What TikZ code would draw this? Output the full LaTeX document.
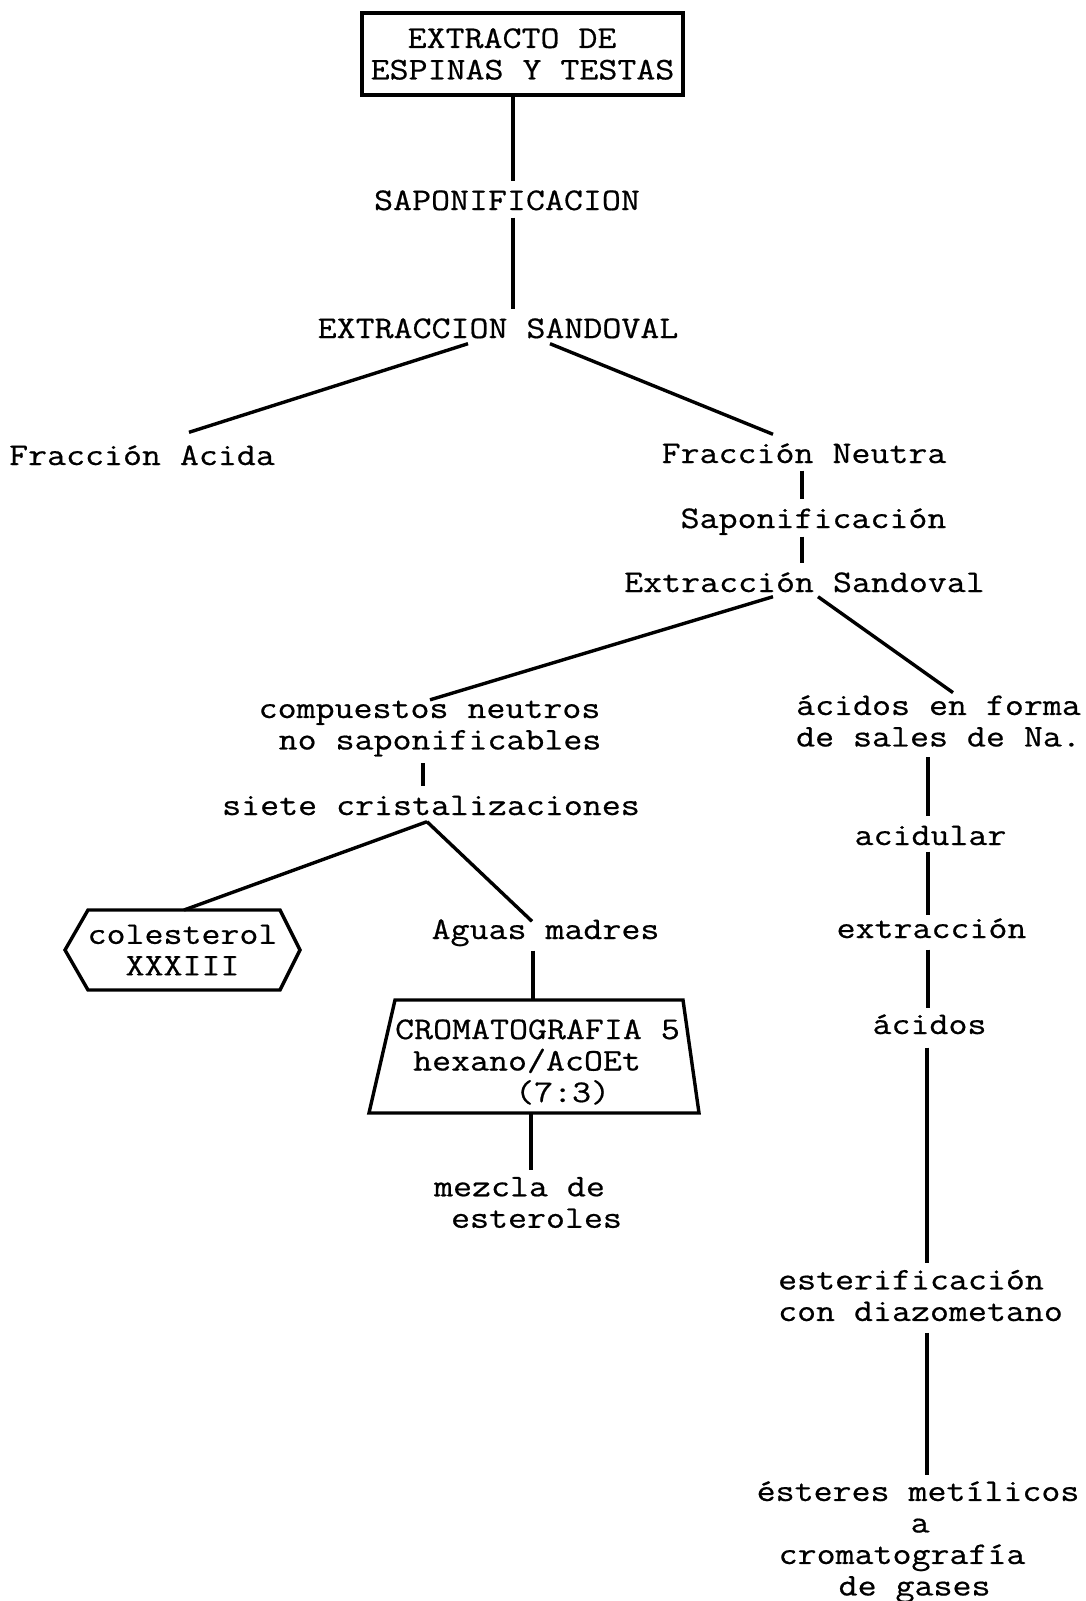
\documentclass[tikz,border=0pt]{standalone}
\usepackage{fontspec}
\setmainfont{Latin Modern Mono}[FakeStretch=1.17,FakeBold=0.6]
\usepackage{tikz}

\begin{document}
\begin{tikzpicture}[x=1pt,y=-1pt,line width=3.4pt,
	every node/.style={font=\fontsize{31.5}{31.5}\selectfont,inner sep=5pt},
	paso/.style={text height=22pt,text depth=7pt}]
		\path[use as bounding box] (0,0) rectangle (1086,1601);

		\node[draw,minimum width=321pt,minimum height=82pt,align=left] (extracto) at (522.5,54) {\hspace*{37pt}EXTRACTO DE\\ESPINAS Y TESTAS};
		\node[paso] (sapon) at (507,202.5) {SAPONIFICACION};
		\node[paso] (sandoval) at (498,330.5) {EXTRACCION SANDOVAL};
		\node[paso] (acida) at (142,457.5) {Fracción Acida};
		\node[paso] (neutra) at (804,455.5) {Fracción Neutra};
		\node[paso] (sapon2) at (813.5,520.5) {Saponificación};
		\node[paso] (sandoval2) at (804.5,584.5) {Extracción Sandoval};
		\node[align=left] (neutros) at (430,728.5) {compuestos neutros\\\hspace*{20pt}no saponificables};
		\node[align=center] (sales) at (938.5,721) {ácidos en forma\\de sales de Na.};
		\node[paso] (cristal) at (431,807.5) {siete cristalizaciones};
		\node[align=center] (colest) at (182.5,950) {colesterol\\XXXIII};
		\node[paso] (aguas) at (545.5,931.5) {Aguas madres};
		\node[align=left] (croma) at (537.5,1062) {CROMATOGRAFIA 5\\\hspace*{18pt}hexano/AcOEt\\\hspace*{120pt}(7:3)};
		\node[align=left] (mezcla) at (528,1202.5) {mezcla de\\\hspace*{17pt}esteroles};
		\node[paso] (acidular) at (930.5,837.5) {acidular};
		\node[paso] (extrac) at (931.5,930.5) {extracción};
		\node[paso] (acidos) at (929.5,1026.5) {ácidos};
		\node[align=left] (esterif) at (920.5,1295.5) {esterificación\\con diazometano};
		\node[align=left] (esteres) at (918,1542) {ésteres metílicos\\\hspace*{154pt}a\\\hspace*{22pt}cromatografía\\\hspace*{82pt}de gases};

		% hexagono y trapecio
		\draw[shift={(colest.center)}] (-117.5,0) -- (-94.5,-40) -- (1.5,-40) coordinate (coltop) -- (97.5,-40) -- (117.5,0) -- (97.5,40) -- (-94.5,40) -- cycle;
		\draw[shift={(croma.center)}] (-142.5,-62) -- (-4.5,-62) coordinate (cromatop) -- (145.5,-62) -- (161.5,51) -- (-6.5,51) coordinate (cromabot) -- (-168.5,51) -- cycle;

		\path
		([xshift=-9.5pt]extracto.south) edge ([xshift=6pt]sapon.north)
		([xshift=6pt,yshift=6pt]sapon.south) edge ([xshift=15pt]sandoval.north)
		([xshift=-30pt,yshift=8pt]sandoval.south) edge ([xshift=47pt,yshift=4pt]acida.north)
		([xshift=52pt,yshift=8pt]sandoval.south) edge ([xshift=-31pt]neutra.north)
		([xshift=-2pt,yshift=6pt]neutra.south) edge ([xshift=-11.5pt]sapon2.north)
		([xshift=-11.5pt,yshift=5pt]sapon2.south) edge ([xshift=-2.5pt]sandoval2.north)
		([xshift=-31.5pt,yshift=9pt]sandoval2.south) edge ([yshift=-6pt]neutros.north)
		([xshift=13.5pt,yshift=9pt]sandoval2.south) edge ([xshift=14.5pt,yshift=-4pt]sales.north)
		([xshift=-7pt]neutros.south) edge ([xshift=-8pt]cristal.north)
		([xshift=-4pt,yshift=7pt]cristal.south) edge (coltop)
		([xshift=-4pt,yshift=7pt]cristal.south) edge ([xshift=-13.5pt,yshift=-11pt]aguas.north)
		([xshift=-12.5pt,yshift=2pt]aguas.south) edge (cromatop)
		(cromabot) edge ([xshift=3pt]mezcla.north)
		([xshift=-10.5pt,yshift=-4pt]sales.south) edge ([xshift=-2.5pt]acidular.north)
		([xshift=-2.5pt,yshift=7pt]acidular.south) edge ([xshift=-3.5pt,yshift=-6pt]extrac.north)
		([xshift=-3.5pt,yshift=2pt]extrac.south) edge ([xshift=-1.5pt,yshift=-3pt]acidos.north)
		([xshift=-2.5pt]acidos.south) edge ([xshift=6.5pt]esterif.north)
		([xshift=6.5pt,yshift=-5pt]esterif.south) edge ([xshift=9pt]esteres.north)
		;
	\end{tikzpicture}
\end{document}
